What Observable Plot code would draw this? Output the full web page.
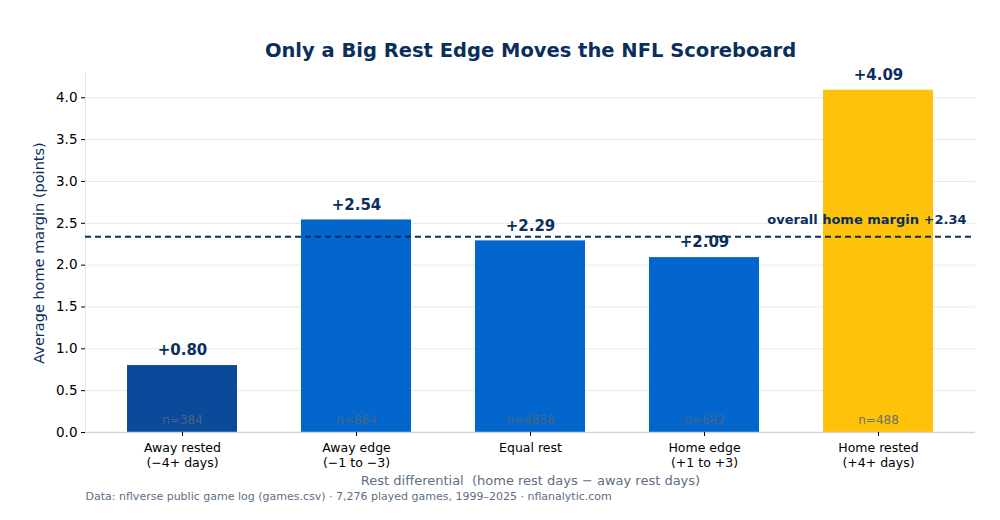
<!DOCTYPE html>
<html>
<head>
<meta charset="utf-8">
<script src="https://cdn.jsdelivr.net/npm/d3@7"></script>
<script src="https://cdn.jsdelivr.net/npm/@observablehq/plot@0.6"></script>
<style>
  html, body { margin: 0; padding: 0; background: #ffffff; }
  #chart { width: 1000px; height: 520px; }
</style>
</head>
<body>
<div id="chart"></div>
<script>
const categories = ["Away rested", "Away edge", "Equal rest", "Home edge", "Home rested"];
const tickLabels = ["Away rested\n(\u22124+ days)", "Away edge\n(\u22121 to \u22123)", "Equal rest", "Home edge\n(+1 to +3)", "Home rested\n(+4+ days)"];
const margins = [0.80, 2.54, 2.29, 2.09, 4.09];
const counts = [384, 864, 4858, 682, 488];
const barColors = ["#0b4a9a", "#0366cc", "#0366cc", "#0366cc", "#ffc20a"];
const overall = 2.34;
const yTicks = [0, 0.5, 1.0, 1.5, 2.0, 2.5, 3.0, 3.5, 4.0];

const data = categories.map((c, i) => ({cat: c, value: margins[i], n: counts[i], color: barColors[i]}));
const labelOf = new Map(categories.map((c, i) => [c, tickLabels[i]]));

const navy = "#0b2f5c";
const font = "DejaVu Sans, sans-serif";

const chart = Plot.plot({
  width: 1000,
  height: 520,
  marginTop: 73,
  marginBottom: 88,
  marginLeft: 85,
  marginRight: 25,
  style: {fontFamily: font, fontSize: "13px", background: "#ffffff", color: "#000"},
  x: {type: "band", domain: categories, paddingInner: 0.37, paddingOuter: 0.235, label: null},
  y: {domain: [0, 4.29], label: null},
  marks: [
    Plot.gridY(yTicks, {stroke: "#dde3ec", strokeOpacity: 1, strokeWidth: 0.8}),
    Plot.frame({anchor: "left", stroke: "#dde3ec", strokeWidth: 1}),
    Plot.barY(data, {x: "cat", y: "value", fill: "color"}),
    Plot.ruleY([0], {stroke: "#cfd6e0", strokeWidth: 1.6}),
    Plot.ruleY([overall], {stroke: navy, strokeWidth: 2, strokeDasharray: "6,4"}),
    Plot.text([`overall home margin +${overall.toFixed(2)}`], {
      frameAnchor: "right", y: [overall], dx: -9, dy: -17, textAnchor: "end",
      fill: navy, fontWeight: "bold", fontSize: 13
    }),
    Plot.text(data, {
      x: "cat", y: "value", text: d => `+${d.value.toFixed(2)}`, dy: -15,
      fill: navy, fontWeight: "bold", fontSize: 15
    }),
    Plot.text(data, {
      x: "cat", y: 0, text: d => `n=${d.n}`, dy: -12,
      fill: "#556579", fillOpacity: 0.9, fontSize: 12
    }),
    Plot.axisY({ticks: yTicks, tickFormat: d3.format(".1f"), tickSize: 4, tickPadding: 4, fontSize: 13.5, stroke: "#000", fill: "#000"}),
    Plot.axisX({tickFormat: d => labelOf.get(d), tickSize: 4, tickPadding: 5, fontSize: 12.5, lineHeight: 1.2, fill: "#000", stroke: "#000"}),
    Plot.text(["Average home margin (points)"], {
      frameAnchor: "left", dx: -46, rotate: -90, textAnchor: "middle", fill: navy, fontSize: 14.5
    }),
    Plot.text(["Rest differential  (home rest days \u2212 away rest days)"], {
      frameAnchor: "bottom", dy: 52, fill: "#5e6e84", fontSize: 13
    }),
    Plot.text(["Data: nflverse public game log (games.csv) \u00b7 7,276 played games, 1999\u20132025 \u00b7 nflanalytic.com"], {
      frameAnchor: "bottom-left", dy: 67, textAnchor: "start", fill: "#5e6e84", fontSize: 11
    }),
    Plot.text(["Only a Big Rest Edge Moves the NFL Scoreboard"], {
      frameAnchor: "top", dy: -30, fill: navy, fontWeight: "bold", fontSize: 19.5
    })
  ]
});
document.getElementById("chart").appendChild(chart);
</script>
</body>
</html>
